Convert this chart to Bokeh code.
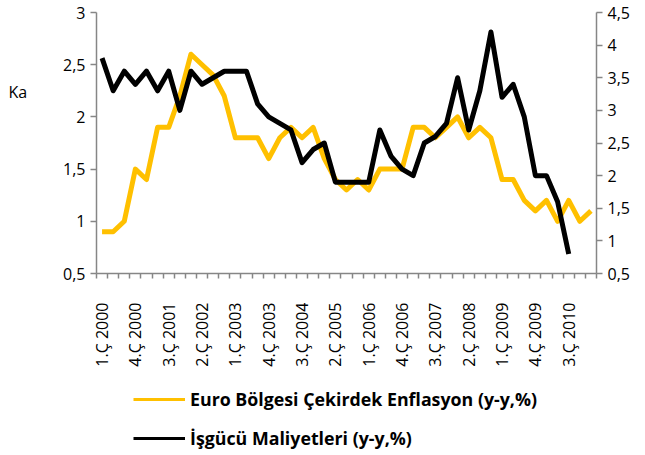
import math
import numpy as np
from bokeh.plotting import figure
from bokeh.layouts import column, row
from bokeh.models import (Range1d, LinearAxis, FixedTicker, CustomJSTickFormatter,
                          Legend, LegendItem, Label)
from bokeh.embed import file_html
from bokeh.resources import INLINE

# ---- data ----
quarters = [f"{q}.Ç {y}" for y in range(2000, 2012) for q in range(1, 5)][:45]

core_inflation = [0.9, 0.9, 1.0, 1.5, 1.4, 1.9, 1.9, 2.2, 2.6, 2.5,
                  2.4, 2.2, 1.8, 1.8, 1.8, 1.6, 1.8, 1.9, 1.8, 1.9,
                  1.6, 1.4, 1.3, 1.4, 1.3, 1.5, 1.5, 1.5, 1.9, 1.9,
                  1.8, 1.9, 2.0, 1.8, 1.9, 1.8, 1.4, 1.4, 1.2, 1.1,
                  1.2, 1.0, 1.2, 1.0, 1.1]

labour_costs = [3.8, 3.3, 3.6, 3.4, 3.6, 3.3, 3.6, 3.0, 3.6, 3.4,
                3.5, 3.6, 3.6, 3.6, 3.1, 2.9, 2.8, 2.7, 2.2, 2.4,
                2.5, 1.9, 1.9, 1.9, 1.9, 2.7, 2.3, 2.1, 2.0, 2.5,
                2.6, 2.8, 3.5, 2.7, 3.3, 4.2, 3.2, 3.4, 2.9, 2.0,
                2.0, 1.6, 0.8]

left_ticks = [0.5, 1.0, 1.5, 2.0, 2.5, 3.0]
right_ticks = [0.5, 1.0, 1.5, 2.0, 2.5, 3.0, 3.5, 4.0, 4.5]
label_step = 3

name_core = "Euro Bölgesi Çekirdek Enflasyon (y-y,%)"
name_labour = "İşgücü Maliyetleri (y-y,%)"
cut_title = "Ka"

YELLOW = "#FFC000"
BLACK = "#000000"
FONT = "Open Sans"
AXIS_GREY = "#868686"

TOP_H = 380
STRIP_W = 30


def bare(fig):
    fig.title.visible = False
    fig.outline_line_color = None
    fig.xgrid.visible = False
    fig.ygrid.visible = False
    return fig


# ---- left strip holding the clipped axis title ----
strip = bare(figure(width=STRIP_W, height=TOP_H, output_backend="svg",
                    toolbar_location=None, x_axis_location=None, y_axis_location=None,
                    x_range=Range1d(0, STRIP_W), y_range=Range1d(0, TOP_H),
                    min_border=0))
strip.add_layout(Label(x=8, y=TOP_H - 116, text=cut_title, text_font=FONT,
                       text_font_size="16px", text_baseline="middle",
                       text_color=BLACK))

# ---- main chart ----
n = len(quarters)
x_core = np.arange(len(core_inflation)) + 0.5
x_labour = np.arange(len(labour_costs)) + 0.5

p = bare(figure(width=645 - STRIP_W, height=TOP_H, output_backend="svg",
                toolbar_location=None,
                x_range=Range1d(0, n), y_range=Range1d(left_ticks[0], left_ticks[-1]),
                min_border_left=96 - STRIP_W, min_border_right=49, min_border_top=12,
                min_border_bottom=TOP_H - 273))

p.extra_y_ranges = {"right": Range1d(right_ticks[0], right_ticks[-1])}
raxis = LinearAxis(y_range_name="right")
p.add_layout(raxis, "right")

dec_fmt = CustomJSTickFormatter(code="return String(Math.round(tick*10)/10).replace('.', ',');")

for ax, ticks in ((p.yaxis[0], left_ticks), (raxis, right_ticks)):
    ax.ticker = FixedTicker(ticks=ticks)
    ax.formatter = dec_fmt
    ax.axis_line_color = AXIS_GREY
    ax.axis_line_width = 1.5
    ax.major_tick_line_color = AXIS_GREY
    ax.major_tick_line_width = 1.5
    ax.major_tick_out = 6
    ax.major_tick_in = 0
    ax.minor_tick_out = 0
    ax.minor_tick_in = 0
    ax.major_label_standoff = 5
    ax.major_label_text_font = FONT
    ax.major_label_text_font_size = "16px"
    ax.major_label_text_color = BLACK

xa = p.xaxis[0]
xa.ticker = FixedTicker(ticks=[i + 0.5 for i in range(0, n, label_step)],
                        minor_ticks=list(range(0, n + 1)))
xa.formatter = CustomJSTickFormatter(args=dict(labels=quarters),
                                     code="return labels[Math.round(tick - 0.5)];")
xa.axis_line_color = AXIS_GREY
xa.axis_line_width = 1.5
xa.major_tick_out = 0
xa.major_tick_in = 0
xa.minor_tick_out = 5
xa.minor_tick_in = 0
xa.minor_tick_line_color = AXIS_GREY
xa.minor_tick_line_width = 1.5
xa.major_label_orientation = math.pi / 2
xa.major_label_standoff = 24
xa.major_label_text_font = FONT
xa.major_label_text_font_size = "16px"
xa.major_label_text_color = BLACK

p.line(x_core, core_inflation, line_color=YELLOW, line_width=5, line_join="round")
p.line(x_labour, labour_costs, line_color=BLACK, line_width=5, line_join="round",
       y_range_name="right")

# ---- legend strip ----
LEG_H = 455 - TOP_H
lf = bare(figure(width=645, height=LEG_H, output_backend="svg", toolbar_location=None,
                 x_axis_location=None, y_axis_location=None,
                 x_range=Range1d(0, 1), y_range=Range1d(0, 1), min_border=0))
leg_core = lf.line(x=[np.nan], y=[np.nan], line_color=YELLOW, line_width=3)
leg_lab = lf.line(x=[np.nan], y=[np.nan], line_color=BLACK, line_width=3)
legend = Legend(items=[LegendItem(label=name_core, renderers=[leg_core], index=0),
                       LegendItem(label=name_labour, renderers=[leg_lab], index=0)],
                location=(133, LEG_H - 70), orientation="vertical",
                glyph_width=52, glyph_height=20, label_height=20,
                label_standoff=5, spacing=15, padding=0, margin=0,
                border_line_color=None, background_fill_alpha=0,
                label_text_font=FONT, label_text_font_style="bold",
                label_text_font_size="17.8px", label_text_color=BLACK)
lf.add_layout(legend)

layout = column(row(strip, p), lf)
open("out.html", "w").write(file_html(layout, INLINE))
